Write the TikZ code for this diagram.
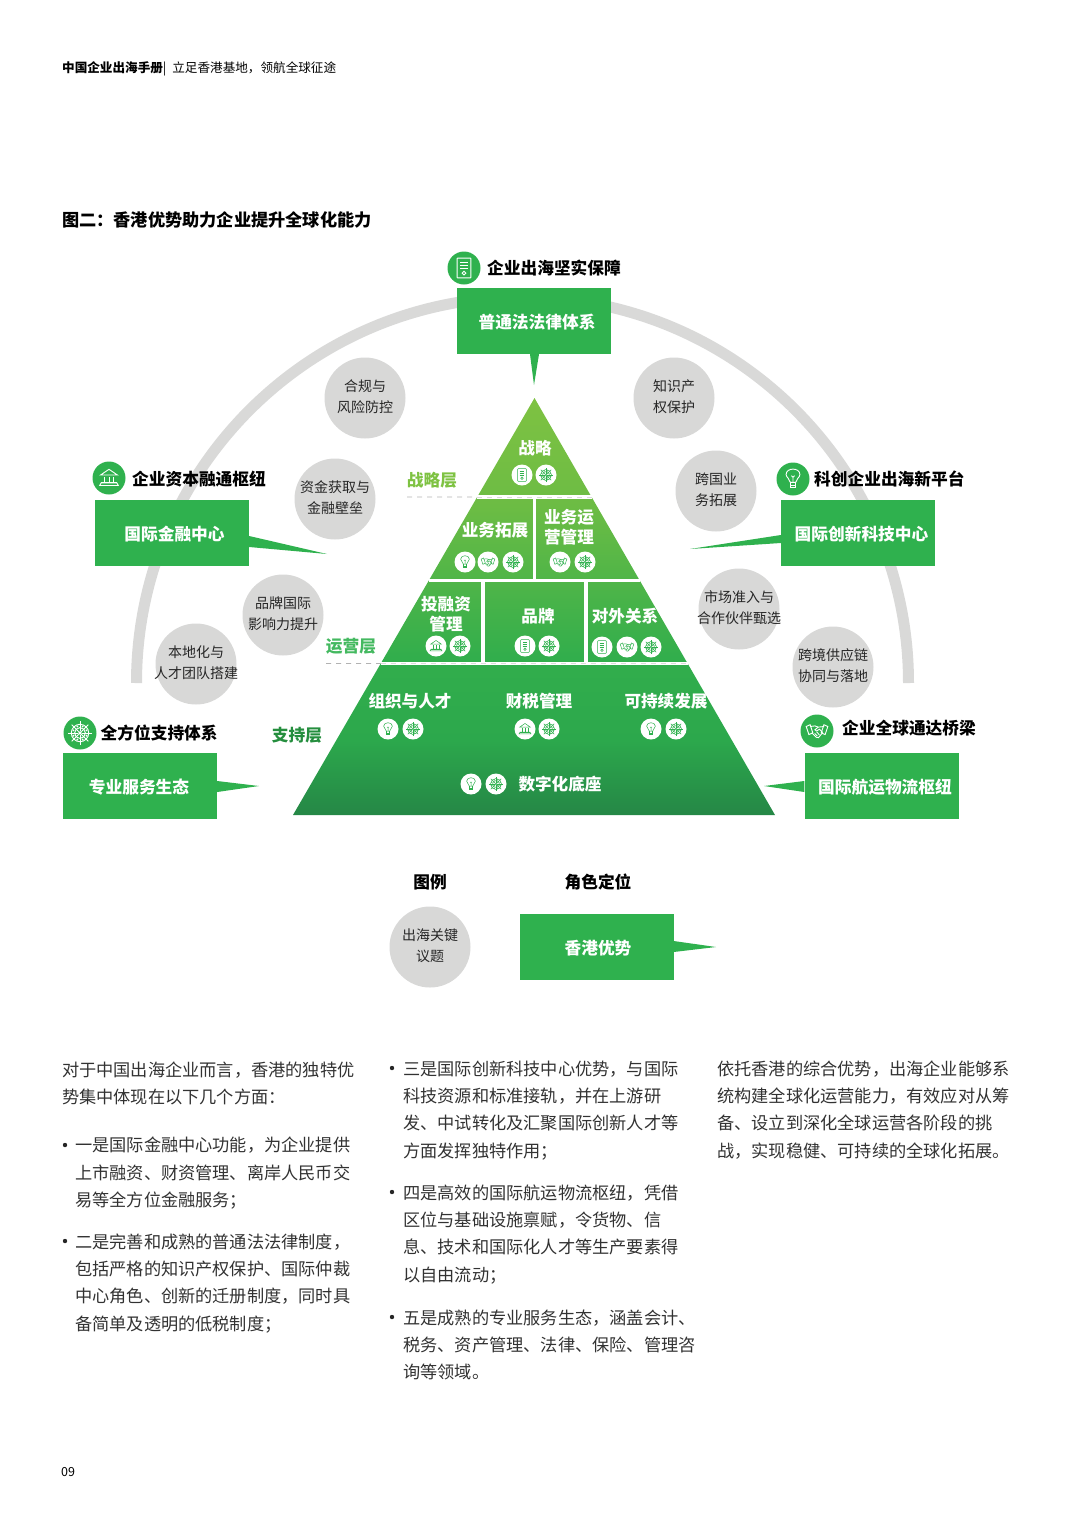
\documentclass[tikz,border=0pt]{standalone}
\usepackage{fontspec}
\usepackage{xcolor}
\setmainfont{Noto Sans CJK SC}
\usetikzlibrary{calc,shapes}
\definecolor{hkgreen}{RGB}{47,177,78}
\definecolor{arcgray}{RGB}{217,217,216}
\definecolor{spotgray}{RGB}{216,216,215}
\definecolor{bodyink}{RGB}{50,50,50}
\definecolor{pyrtop}{RGB}{126,194,66}
\definecolor{pyrupper}{RGB}{108,188,68}
\definecolor{pyrmid}{RGB}{50,174,76}
\definecolor{pyrlow}{RGB}{44,168,76}
\definecolor{pyrbase}{RGB}{37,135,70}
\pgfdeclareverticalshading{pyrshade}{100bp}{
  color(0bp)=(pyrbase); color(25bp)=(pyrbase); color(34bp)=(pyrlow);
  color(44bp)=(pyrmid); color(62bp)=(pyrupper); color(75bp)=(pyrtop); color(100bp)=(pyrtop)}
\tikzset{
  pics/iconwheel/.style={code={
    \draw (0,0) circle (.58);
    \draw (0,0) circle (.36);
    \fill (0,0) circle (.12);
    \foreach \a in {0,45,...,315} {
      \draw (\a:.12) -- (\a:.78);
      \fill (\a+22.5:.47) circle (.07);
    }
  }},
  pics/icondoc/.style={code={
    \draw[rounded corners=.6pt] (-.46,-.66) rectangle (.46,.66);
    \draw (-.24,-.4) -- (.24,-.4) (-.24,-.2) -- (.24,-.2) (-.24,0) -- (.24,0);
    \draw (0,.34) circle (.13);
  }},
  pics/iconbank/.style={code={
    \draw (-.56,-.2) -- (0,-.58) -- (.56,-.2) -- cycle;
    \draw (-.3,-.08) -- (-.3,.28) (0,-.08) -- (0,.28) (.3,-.08) -- (.3,.28);
    \draw (-.52,.3) -- (.52,.3);
    \draw (-.62,.5) -- (.62,.5) -- (.52,.32) -- (-.52,.32) -- cycle;
  }},
  pics/iconbulb/.style={code={
    \draw (-.18,.22) .. controls (-.2,-.02) and (-.46,-.1) .. (-.46,-.3)
      .. controls (-.46,-.78) and (.46,-.78) .. (.46,-.3)
      .. controls (.46,-.1) and (.2,-.02) .. (.18,.22) -- cycle;
    \draw (-.18,.22) -- (-.18,.58) -- (.18,.58) -- (.18,.22);
    \draw (-.18,.4) -- (.18,.4);
    \draw (-.1,-.22) -- (0,-.12) -- (.1,-.22) (0,-.12) -- (0,.22);
  }},
  pics/iconshake/.style={code={
    \draw (-.72,-.3) -- (-.46,-.42) -- (-.28,.12) -- (-.54,.24) -- cycle;
    \draw (.72,-.3) -- (.46,-.42) -- (.28,.12) -- (.54,.24) -- cycle;
    \draw (-.46,-.3) -- (-.14,-.34) -- (.08,-.26) -- (.48,-.3);
    \draw (.08,-.26) -- (-.14,-.08) -- (-.02,0) -- (.16,-.12) -- (.38,.1);
    \draw (-.34,.12) -- (-.04,.42) -- (.1,.44) -- (.38,.1);
    \draw (-.16,.16) -- (.02,.34) (-.02,.06) -- (.16,.26);
  }}
}
\newcommand{\iconspot}[3]{%
  \node[dotbadge] (#1) at (#2) {};
  \pic[smallicon] at (#1) {#3};
}
\begin{document}
\begin{tikzpicture}[
    x=1pt, y=-1pt,
    greenbox/.style={
        rectangle, fill=hkgreen, text=white, inner sep=0pt,
        minimum width=154pt, minimum height=66pt, text height=17pt,
        align=center, font=\fontsize{16.7}{20}\selectfont\bfseries
    },
    issue/.style={
        circle, fill=spotgray, text=black!85, inner sep=-20pt,
        minimum size=81pt, text depth=4pt,
        align=center, font=\fontsize{14}{20.5}\selectfont
    },
    bigbadge/.style={circle, fill=hkgreen, inner sep=0pt, minimum size=33pt},
    dotbadge/.style={circle, fill=white, inner sep=0pt, minimum size=21pt},
    bigicon/.style={scale=15, color=white, line width=.9pt},
    smallicon/.style={scale=9.5, color=hkgreen, line width=.5pt},
    headlabel/.style={anchor=west, inner sep=0pt, text=black, font=\fontsize{16.7}{20}\selectfont\bfseries},
    layerlabel/.style={inner sep=0pt, font=\fontsize{16.7}{20}\selectfont\bfseries},
    pyrlabel/.style={inner sep=0pt, text=white, align=center, font=\fontsize{16.6}{20}\selectfont\bfseries},
    para/.style={anchor=north west, inner sep=0pt, align=left, text=bodyink, font=\fontsize{17.2}{27.3}\selectfont},
    bulletdot/.style={circle, fill=black!85, inner sep=0pt, minimum size=4.4pt}
]
\useasboundingbox (0,0) rectangle (1080,1527);

% Page head
\node[anchor=west, inner sep=0pt, font=\fontsize{12.6}{15}\selectfont] (pagehead) at (62,69) {{\bfseries 中国企业出海手册}|\kern6pt 立足香港基地，领航全球征途};
\node[anchor=west, inner sep=0pt, font=\fontsize{17.2}{20}\selectfont\bfseries] (figtitle) at (62,220) {图二：香港优势助力企业提升全球化能力};

% Arc behind everything
\draw[arcgray, line width=11pt] (136.5,683) arc[start angle=180, end angle=360, x radius=386, y radius=386];

% Issue circles
\node[issue] (compliance) at (365,398) {合规与\\风险防控};
\node[issue] (ipright) at (674,398) {知识产\\权保护};
\node[issue] (funding) at (335,499) {资金获取与\\金融壁垒};
\node[issue] (crossbiz) at (716,491) {跨国业\\务拓展};
\node[issue] (brandrep) at (283,615) {品牌国际\\影响力提升};
\node[issue] (localteam) at (196,664) {本地化与\\人才团队搭建};
\node[issue] (market) at (739,609) {市场准入与\\合作伙伴甄选};
\node[issue] (supply) at (833,667) {跨境供应链\\协同与落地};

% Pyramid
\coordinate (apex) at (534.5,398);
\coordinate (baseL) at (293,815);
\coordinate (baseR) at (775,815);
\shade[shading=pyrshade] (apex) -- (baseR) -- (baseL) -- cycle;
\draw[white, line width=3.5pt] ($(apex)!.2374!(baseL)$) -- ($(apex)!.2374!(baseR)$);
\draw[white, line width=3.5pt] ($(apex)!.4376!(baseL)$) -- ($(apex)!.4376!(baseR)$);
\draw[white, line width=3.5pt] ($(apex)!.6367!(baseL)$) -- ($(apex)!.6367!(baseR)$);
\draw[white, line width=3.5pt] (534.5,497) -- (534.5,580.5);
\draw[white, line width=3.5pt] (483,580.5) -- (483,663.5);
\draw[white, line width=3.5pt] (586,580.5) -- (586,663.5);

% Layer dashes
\coordinate (stratdash) at (407,497);
\coordinate (opsdash) at (326,663.5);
\draw[black!30, line width=.9pt, dash pattern=on 5pt off 5pt] (stratdash) -- ($(apex)!.2374!(baseL)$);
\draw[black!30, line width=.9pt, dash pattern=on 5pt off 5pt] (opsdash) -- ($(apex)!.6367!(baseL)$);
\draw[black!14, line width=.9pt, dash pattern=on 5pt off 5pt] ($(apex)!.2374!(baseL)$) -- ($(apex)!.2374!(baseR)$);
\draw[black!14, line width=.9pt, dash pattern=on 5pt off 5pt] ($(apex)!.6367!(baseL)$) -- ($(apex)!.6367!(baseR)$);

% Layer labels
\node[layerlabel, text=pyrtop] (stratlayer) at (432,480) {战略层};
\node[layerlabel, text=hkgreen!90!white] (opslayer) at (351,646) {运营层};
\node[layerlabel, text=hkgreen!80!black] (baselayer) at (297,735) {支持层};

% Pyramid labels
\node[pyrlabel] (strategy) at (535,448) {战略};
\node[pyrlabel] (bizgrow) at (495,530) {业务拓展};
\node[pyrlabel] (bizops) at (569,527) {业务运\\营管理};
\node[pyrlabel] (invest) at (446,614) {投融资\\管理};
\node[pyrlabel] (brand) at (538,616) {品牌};
\node[pyrlabel] (relations) at (625,616) {对外关系};
\node[pyrlabel] (people) at (410,701) {组织与人才};
\node[pyrlabel] (taxes) at (539,701) {财税管理};
\node[pyrlabel] (sustain) at (666,701) {可持续发展};
\node[pyrlabel] (digital) at (560,784) {数字化底座};

% Small icon spots
\iconspot{sa}{522,475}{icondoc}
\iconspot{sb}{546,475}{iconwheel}
\iconspot{ga}{465,562}{iconbulb}
\iconspot{gb}{488,562}{iconshake}
\iconspot{gc}{513,562}{iconwheel}
\iconspot{oa}{560,562}{iconshake}
\iconspot{ob}{585,562}{iconwheel}
\iconspot{ia}{436,646}{iconbank}
\iconspot{ib}{460,646}{iconwheel}
\iconspot{ba}{525,646}{icondoc}
\iconspot{bb}{549,646}{iconwheel}
\iconspot{ra}{602,647}{icondoc}
\iconspot{rb}{627,647}{iconshake}
\iconspot{rc}{651,647}{iconwheel}
\iconspot{pa}{388,729}{iconbulb}
\iconspot{pb}{413,729}{iconwheel}
\iconspot{ta}{525,729}{iconbank}
\iconspot{tb}{549,729}{iconwheel}
\iconspot{ua}{651,729}{iconbulb}
\iconspot{ub}{676,729}{iconwheel}
\iconspot{da}{471,784}{iconbulb}
\iconspot{db}{496,784}{iconwheel}

% Role boxes with pointer tails
\node[greenbox] (law) at (534,321) {\kern6pt 普通法法律体系};
\node[greenbox] (finance) at (172,533) {\kern5pt 国际金融中心};
\node[greenbox] (innovate) at (858,533) {\kern7pt 国际创新科技中心};
\node[greenbox] (services) at (140,786) {专业服务生态\kern2pt};
\node[greenbox] (logistics) at (881.5,786) {\kern7pt 国际航运物流枢纽};

\coordinate (lawtip) at (534,385);
\coordinate (financetip) at (327,554);
\coordinate (innovatetip) at (690,549);
\coordinate (servicestip) at (259,786);
\coordinate (logisticstip) at (764,786);
\fill[hkgreen] ($(law.south)+(-4,0)$) -- (lawtip) -- ($(law.south)+(5,0)$) -- cycle;
\fill[hkgreen] ($(finance.east)+(0,3)$) -- (financetip) -- ($(finance.east)+(0,14)$) -- cycle;
\fill[hkgreen] ($(innovate.west)+(0,2)$) -- (innovatetip) -- ($(innovate.west)+(0,10)$) -- cycle;
\fill[hkgreen] ($(services.east)+(0,-5)$) -- (servicestip) -- ($(services.east)+(0,6)$) -- cycle;
\fill[hkgreen] ($(logistics.west)+(0,-5)$) -- (logisticstip) -- ($(logistics.west)+(0,6)$) -- cycle;

% Badges and headings
\node[bigbadge] (lawbadge) at (464,268) {};
\pic[bigicon] at (lawbadge) {icondoc};
\node[headlabel] (lawhead) at (487,268) {企业出海坚实保障};
\node[bigbadge] (financebadge) at (109,478) {};
\pic[bigicon] at (financebadge) {iconbank};
\node[headlabel] (financehead) at (132,479) {企业资本融通枢纽};
\node[bigbadge] (innovatebadge) at (793,479) {};
\pic[bigicon] at (innovatebadge) {iconbulb};
\node[headlabel] (innovatehead) at (814,479) {科创企业出海新平台};
\node[bigbadge] (servicesbadge) at (80,733) {};
\pic[bigicon] at (servicesbadge) {iconwheel};
\node[headlabel] (serviceshead) at (100.5,733) {全方位支持体系};
\node[bigbadge] (logisticsbadge) at (817,731) {};
\pic[bigicon] at (logisticsbadge) {iconshake};
\node[headlabel] (logisticshead) at (842,728) {企业全球通达桥梁};

% Legend
\node[layerlabel, text=black] (legendhead) at (430,882) {图例};
\node[layerlabel, text=black] (rolehead) at (598,882) {角色定位};
\node[issue] (legendissue) at (430,947) {出海关键\\议题};
\node[greenbox] (legendrole) at (596.5,947) {\kern3pt 香港优势};
\coordinate (legendtip) at (716,947);
\fill[hkgreen] ($(legendrole.east)+(0,-6)$) -- (legendtip) -- ($(legendrole.east)+(0,5)$) -- cycle;

% Text columns
\node[para] (introtext) at (62,1061.5) {对于中国出海企业而言，香港的独特优\\势集中体现在以下几个方面：};
\node[bulletdot] (bula) at (65,1145) {};
\node[para] (itema) at (75,1137) {一是国际金融中心功能，为企业提供\\上市融资、财资管理、离岸人民币交\\易等全方位金融服务；};
\node[bulletdot] (bulb) at (65,1241) {};
\node[para] (itemb) at (75,1233.5) {二是完善和成熟的普通法法律制度，\\包括严格的知识产权保护、国际仲裁\\中心角色、创新的迁册制度，同时具\\备简单及透明的低税制度；};
\node[bulletdot] (bulc) at (392,1068) {};
\node[para] (itemc) at (403,1060.5) {三是国际创新科技中心优势，与国际\\科技资源和标准接轨，并在上游研\\发、中试转化及汇聚国际创新人才等\\方面发挥独特作用；};
\node[bulletdot] (buld) at (392,1192) {};
\node[para] (itemd) at (403,1184.5) {四是高效的国际航运物流枢纽，凭借\\区位与基础设施禀赋，令货物、信\\息、技术和国际化人才等生产要素得\\以自由流动；};
\node[bulletdot] (bule) at (392,1317) {};
\node[para] (iteme) at (403,1309.5) {五是成熟的专业服务生态，涵盖会计、\\税务、资产管理、法律、保险、管理咨\\询等领域。};
\node[para] (closing) at (717,1060.5) {依托香港的综合优势，出海企业能够系\\统构建全球化运营能力，有效应对从筹\\备、设立到深化全球运营各阶段的挑\\战，实现稳健、可持续的全球化拓展。};

% Page number
\node[anchor=west, inner sep=0pt, font=\fontsize{12.5}{15}\selectfont] (pagenum) at (61,1472) {09};
\end{tikzpicture}
\end{document}
